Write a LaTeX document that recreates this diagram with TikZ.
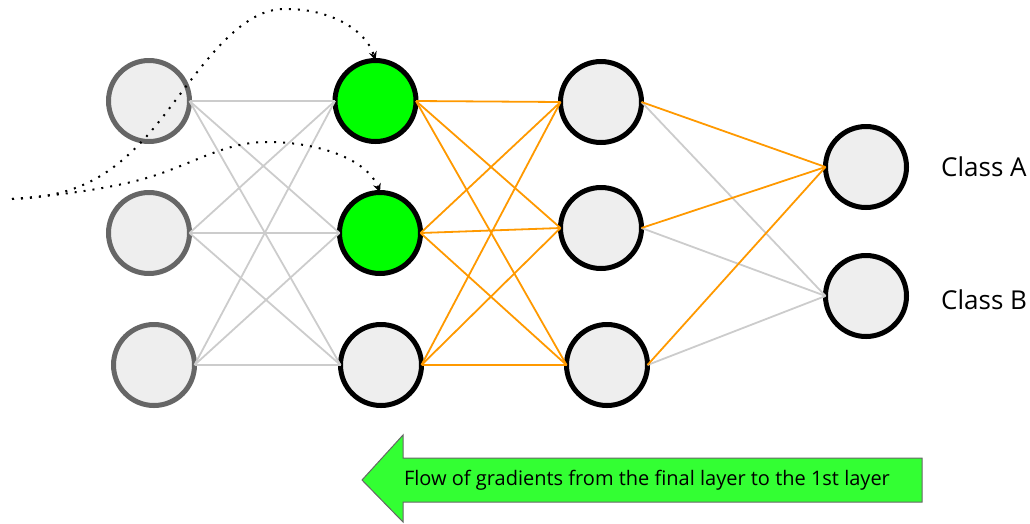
\documentclass[tikz,border=0pt]{standalone}
\usepackage{fontspec}
\setmainfont{Open Sans}
\usetikzlibrary{arrows.meta}
\definecolor{nfill}{HTML}{EEEEEE}
\definecolor{ngray}{HTML}{666666}
\definecolor{egray}{HTML}{CCCCCC}
\definecolor{eorange}{HTML}{FF9900}
\definecolor{ngreen}{HTML}{00FF00}
\definecolor{agreen}{HTML}{33FF33}
\begin{document}
\begin{tikzpicture}[x=1pt,y=-1pt,
  neuron/.style={circle,minimum size=81pt,inner sep=0pt,outer sep=0pt,line width=5pt,fill=nfill,draw=black},
  inneuron/.style={neuron,draw=ngray},
  active/.style={neuron,fill=ngreen},
  gedge/.style={draw=egray,line width=1.8pt},
  oedge/.style={draw=eorange,line width=1.8pt},
  dotpath/.style={line width=2pt,dash pattern=on 2pt off 7pt,-{Stealth[length=9pt,width=8pt,inset=3pt]}},
  lbl/.style={font=\fontsize{26}{30}\selectfont,anchor=west,inner sep=0pt}
]
\useasboundingbox (0,0) rectangle (1030,523);
% layer 1
\node[inneuron] (a1) at (149,101) {};
\node[inneuron] (a2) at (149,233) {};
\node[inneuron] (a3) at (154,365) {};
% layer 2
\node[active] (b1) at (375.5,101) {};
\node[active] (b2) at (380,233) {};
\node[neuron] (b3) at (381,365) {};
% layer 3
\node[neuron] (c1) at (601,102) {};
\node[neuron] (c2) at (601,228) {};
\node[neuron] (c3) at (607,365) {};
% layer 4
\node[neuron] (d1) at (866,167) {};
\node[neuron] (d2) at (866,296) {};
% edges layer 1 -> 2
\foreach \i in {1,2,3}{\foreach \j in {1,2,3}{\draw[gedge] (a\i.east) -- (b\j.west);}}
% edges layer 2 -> 3
\foreach \i in {1,2,3}{\foreach \j in {1,2,3}{\draw[oedge] (b\i.east) -- (c\j.west);}}
% edges layer 3 -> 4
\foreach \i in {1,2,3}{\draw[gedge] (c\i.east) -- (d2.west);}
\foreach \i in {1,2,3}{\draw[oedge] (c\i.east) -- (d1.west);}
% labels
\node[lbl] (la) at (941,167) {Class A};
\node[lbl] (lb) at (941,300) {Class B};
% dotted paths
\coordinate (s1) at (12,199);
\coordinate (s2) at (12,199);
\draw[dotpath] (s1) .. controls (70,197) and (106,181) .. (146,137)
   .. controls (186,93) and (230,10) .. (283,9)
   .. controls (330,8) and (366,30) .. (b1.north);
\draw[dotpath] (s2) .. controls (60,195) and (110,189) .. (150,177)
   .. controls (195,163) and (225,142) .. (267,142)
   .. controls (320,142) and (368,160) .. (b2.north);
% gradient arrow
\draw[fill=agreen,draw=ngray,line width=1pt] (362,480) -- (403,435) -- (403,458) -- (922,458) -- (922,502) -- (403,502) -- (403,522) -- cycle;
\node[font=\fontsize{20}{24}\selectfont,inner sep=0pt] (flow) at (647,480) {Flow of gradients from the final layer to the 1st layer};
\end{tikzpicture}
\end{document}
